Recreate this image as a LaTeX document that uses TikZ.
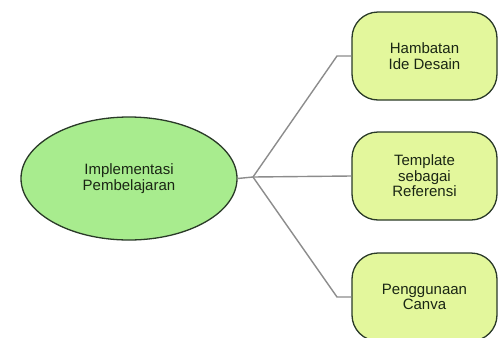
\documentclass[tikz,border=0pt]{standalone}
\usepackage{fontspec}
\setmainfont{Liberation Sans}
\usetikzlibrary{shapes.geometric}
\definecolor{ellfill}{HTML}{A8EC8E}
\definecolor{boxfill}{HTML}{E3F79C}
\definecolor{edgecol}{HTML}{2A3A28}
\definecolor{linkcol}{HTML}{8C8C8C}
\definecolor{txtcol}{HTML}{1A2614}
\tikzset{
  lbl/.style={font=\fontsize{15}{15.5}\selectfont, text=txtcol, align=center},
  topic/.style={ellipse, draw=edgecol, line width=1.3pt, fill=ellfill,
    minimum width=216pt, minimum height=123pt, inner sep=0pt, lbl},
  sub/.style={rectangle, rounded corners=26pt, draw=edgecol, line width=1.3pt, fill=boxfill,
    minimum width=145pt, minimum height=88pt, inner sep=0pt, lbl},
  link/.style={draw=linkcol, line width=1.4pt}
}
\begin{document}
\begin{tikzpicture}[x=1pt,y=-1pt]
\useasboundingbox (0,0) rectangle (499,338);
\begin{scope}
\clip (0,0) rectangle (499,338);
\node[topic] (main) at (129,178.5) {Implementasi\\Pembelajaran};
\node[sub] (b1) at (424.5,56) {Hambatan\\Ide Desain};
\node[sub] (b2) at (424.5,176) {Template\\sebagai\\Referensi};
\node[sub] (b3) at (424.5,297) {Penggunaan\\Canva};
\coordinate (j) at (253,177);
\coordinate (k1) at (337,56);
\coordinate (k3) at (337,297);
\draw[link] (main.east) -- (j);
\draw[link] (j) -- (k1) -- (b1.west);
\draw[link] (j) -- (b2.west);
\draw[link] (j) -- (k3) -- (b3.west);
\end{scope}
\end{tikzpicture}
\end{document}
